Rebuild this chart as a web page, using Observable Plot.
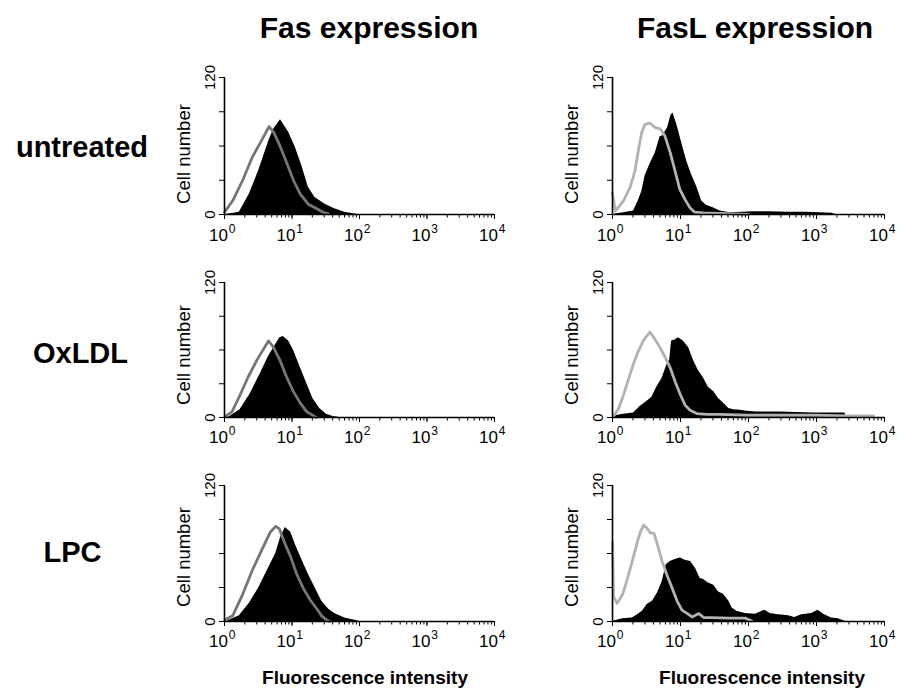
<!DOCTYPE html>
<html><head><meta charset="utf-8">
<script src="https://cdn.jsdelivr.net/npm/d3@7"></script>
<script src="https://cdn.jsdelivr.net/npm/@observablehq/plot@0.6"></script>
<style>
body{margin:0;background:#fff;}
#fig{position:relative;width:901px;height:692px;overflow:hidden;background:#fff;}
#fig svg{position:absolute;}
</style></head><body><div id="fig"></div>
<script>
// ---------- labels ----------
const columnTitles = ["Fas expression", "FasL expression"];
const rowLabels = ["untreated", "OxLDL", "LPC"];
const xTicks = [1, 10, 100, 1000, 10000];
const xTickBase = "10";
const xTickExponents = ["0", "1", "2", "3", "4"];
const yTicks = [0, 30, 60, 90, 120];
const yTickLabels = [0, 120];
const yLabel = "Cell number";
const xLabel = "Fluorescence intensity";

// ---------- data: [fluorescence intensity, cell number] ----------
// Fas, untreated
const fasUntreatedTest = [[1.06,0],[1.66,2],[2.34,18],[3.24,39],[4.57,65],[5.37,75],[6.76,83],[8.91,72],[11.2,59],[14.1,42],[17.4,24],[21.9,15],[30.9,9],[42.7,5],[60.3,2],[85.1,0.5],[95,0]];
const fasUntreatedControl = [[1.0,2],[1.32,12],[1.86,30],[2.57,50],[3.63,66],[4.57,77],[5.37,72],[6.76,59],[8.51,44],[10.5,30],[13.2,18],[17.4,9],[23.4,5],[28.8,2],[34.7,0.5]];
// FasL, untreated
const faslUntreatedTest = [[1.08,0],[1.10,0.5],[1.45,1.5],[2.04,3],[2.40,12],[2.69,20],[3.02,34],[3.55,44],[4.27,54],[5.01,68],[5.50,69],[6.46,76],[7.24,87],[7.76,89],[8.91,78],[10.5,62],[12.3,47],[14.5,35],[17.4,24],[20.4,12],[24.0,8],[30.2,6],[38.0,3],[53.7,1.5],[80,2],[120,2.5],[200,2.5],[400,2],[700,2],[1100,1.5],[1700,1],[1900,0]];
const faslUntreatedControl = [[1.0,19],[1.1,3],[1.45,12],[1.82,24],[2.14,38],[2.40,56],[2.69,72],[3.02,79],[3.55,80],[4.27,76],[5.01,75],[5.89,69],[7.08,54],[8.32,38],[9.77,22],[11.7,13],[13.8,6],[16.2,2],[21.4,1.5],[38.0,1],[60,0.5],[100,0]];
// Fas, OxLDL
const fasOxldlTest = [[1.1,0],[1.20,1],[1.70,7],[2.40,21],[3.39,39],[4.47,54],[5.62,64],[6.61,71],[7.41,72],[8.91,68],[10.5,60],[13.2,45],[16.6,30],[20.4,17],[25.7,8],[32.4,3],[40.7,1],[51.3,0]];
const fasOxldlControl = [[1.02,1],[1.29,5],[1.70,20],[2.24,36],[3.02,51],[3.80,61],[4.47,68],[5.25,63],[6.61,51],[8.32,36],[10.5,23],[13.2,13],[16.6,5],[20.9,1.5],[22.9,0]];
// FasL, OxLDL
const faslOxldlTest = [[1.05,0],[1.10,1.5],[1.45,3],[2.04,4],[2.57,10],[3.16,14],[3.80,18],[4.47,27],[5.37,35],[6.31,47],[6.92,51],[7.41,68],[8.32,69],[9.33,71],[11.0,68],[13.2,62],[15.5,51],[18.2,42],[21.9,35],[25.7,27],[30.9,23],[36.3,17],[42.7,13],[51.3,8],[60.3,7],[75.9,6.5],[95.5,5.5],[132,5],[186,5],[295,5],[513,4.5],[912,4],[1585,4],[2630,4],[2700,0]];
const faslOxldlControl = [[1.02,0.5],[1.23,8],[1.45,20],[1.74,35],[2.04,48],[2.40,59],[2.88,69],[3.55,76],[4.27,69],[5.01,62],[5.89,54],[7.08,44],[8.32,32],[10.0,20],[11.7,11],[13.8,6.5],[17.4,3.5],[24.5,2.7],[38.0,2.7],[95.5,2],[295,2],[912,2],[2818,1.5],[6918,1.5]];
// Fas, LPC
const fasLpcTest = [[1.1,0],[1.17,1],[1.66,5],[2.34,16],[3.24,30],[4.57,48],[5.75,60],[6.76,74],[7.94,83],[9.55,79],[11.2,68],[14.1,54],[17.4,42],[21.9,30],[27.5,18],[34.7,11],[42.7,7],[60.3,3],[85.1,1],[100,0]];
const fasLpcControl = [[1.02,1.5],[1.32,5],[1.86,24],[2.57,45],[3.63,64],[4.79,79],[5.75,84],[6.46,82],[7.59,71],[9.55,57],[11.7,42],[14.8,29],[18.6,19],[23.4,11],[27.5,5],[32.4,1.5],[36,0]];
// FasL, LPC
const faslLpcTest = [[1.0,0],[1.05,0.5],[1.41,2.5],[1.95,3],[2.34,6],[2.75,9],[3.24,15],[3.89,18],[4.57,25],[5.37,35],[6.17,50],[7.08,53],[8.51,55],[10.0,56],[11.7,54],[14.1,53],[16.6,47],[19.5,38],[21.9,37],[25.7,34],[30.9,32],[36.3,26],[42.7,24],[51.3,18],[57.5,12],[67.6,9],[89.1,7],[126,6.5],[174,10],[209,7],[275,6],[389,5],[479,3.5],[603,6],[851,7],[1047,10],[1318,6],[1660,3],[2089,2.5],[2570,0.5],[2700,0]];
const faslLpcControl = [[1.0,70],[1.04,22],[1.12,18],[1.17,16],[1.41,24],[1.66,38],[1.95,53],[2.34,71],[2.57,79],[2.88,85],[3.24,82],[3.63,78],[4.07,78],[4.57,68],[5.37,53],[6.31,41],[7.59,29],[8.91,18],[10.5,10],[12.6,7],[14.8,4],[18.6,7],[21.9,3.5],[28.8,3.5],[51.3,3],[89.1,3],[112,0.5]];

const panels = [
  {row: 0, col: 0, test: fasUntreatedTest, control: fasUntreatedControl},
  {row: 0, col: 1, test: faslUntreatedTest, control: faslUntreatedControl},
  {row: 1, col: 0, test: fasOxldlTest, control: fasOxldlControl},
  {row: 1, col: 1, test: faslOxldlTest, control: faslOxldlControl},
  {row: 2, col: 0, test: fasLpcTest, control: fasLpcControl},
  {row: 2, col: 1, test: faslLpcTest, control: faslLpcControl}
];

// ---------- layout & style ----------
const FONT = "'Liberation Sans', Arial, Helvetica, sans-serif";
const colLayout = [
  {left: 0, width: 534, marginLeft: 224, marginRight: 40, gray: "#767676", titleDx: 9.5, xLabelDx: 5.5},
  {left: 534, width: 367, marginLeft: 78, marginRight: 17, gray: "#b2b2b2", titleDx: 6.5, xLabelDx: 13.5}
];
const rowLayout = [
  {top: 0, height: 247, marginTop: 77, marginBottom: 33, labelDx: -142.5, labelDy: 2.2, yLabelDy: 8, tickDy: 21},
  {top: 247, height: 203, marginTop: 35, marginBottom: 33, labelDx: -144, labelDy: 4.2, yLabelDy: 5, tickDy: 20},
  {top: 450, height: 242, marginTop: 35, marginBottom: 71, labelDx: -152, labelDy: -0.3, yLabelDy: 3.5, tickDy: 20}
];

const fig = document.getElementById("fig");
for (const p of panels) {
  const C = colLayout[p.col], R = rowLayout[p.row];
  const marks = [
    Plot.areaY(p.test, {x: d => d[0], y: d => d[1], fill: "black"}),
    Plot.lineY(p.control, {x: d => d[0], y: d => d[1], stroke: C.gray, strokeWidth: 2.8}),
    Plot.axisX({ticks: 40, tickFormat: () => "", tickSize: 3.5, label: null}),
    Plot.axisX({ticks: xTicks, tickFormat: () => "", tickSize: 5, label: null}),
    Plot.text(xTicks, {x: d => d, y: 0, text: () => xTickBase, dx: -6, dy: R.tickDy, fontSize: 17, fill: "black"}),
    Plot.text(xTicks, {x: d => d, y: 0, text: d => xTickExponents[xTicks.indexOf(d)], dx: 7.5, dy: R.tickDy - 6, fontSize: 12, fill: "black"}),
    Plot.axisY({ticks: yTicks, tickFormat: () => "", tickSize: 5, label: null}),
    Plot.ruleX([1], {y1: 0, y2: 120, stroke: "black", strokeWidth: 1.6}),
    Plot.ruleY([0], {x1: 1, x2: 10000, stroke: "black", strokeWidth: 1.6}),
    Plot.text(yTickLabels, {x: 1, y: d => d, text: d => String(d), rotate: -90, dx: -14, fontSize: 15, fill: "black"}),
    Plot.text([yLabel], {frameAnchor: "left", textAnchor: "middle", lineAnchor: "middle", rotate: -90, dx: -40, dy: R.yLabelDy, fontSize: 18.5, fill: "black"})
  ];
  if (p.col === 0) {
    marks.push(Plot.text([rowLabels[p.row]], {frameAnchor: "left", textAnchor: "middle", lineAnchor: "middle", dx: R.labelDx, dy: R.labelDy, fontSize: 29, fontWeight: "bold", fill: "black"}));
  }
  if (p.row === 0) {
    marks.push(Plot.text([columnTitles[p.col]], {frameAnchor: "top", textAnchor: "middle", lineAnchor: "middle", dx: C.titleDx, dy: -49.6, fontSize: 30, fontWeight: "bold", fill: "black"}));
  }
  if (p.row === 2) {
    marks.push(Plot.text([xLabel], {frameAnchor: "bottom", textAnchor: "middle", lineAnchor: "middle", dx: C.xLabelDx, dy: 56, fontSize: 19, fontWeight: "bold", fill: "black"}));
  }
  const svg = Plot.plot({
    width: C.width, height: R.height,
    marginLeft: C.marginLeft, marginRight: C.marginRight,
    marginTop: R.marginTop, marginBottom: R.marginBottom,
    style: {background: "transparent", overflow: "visible", fontFamily: FONT, color: "black"},
    x: {type: "log", domain: [1, 10000]},
    y: {domain: [0, 120]},
    marks
  });
  svg.style.left = C.left + "px";
  svg.style.top = R.top + "px";
  fig.appendChild(svg);
}
</script>
</body></html>
